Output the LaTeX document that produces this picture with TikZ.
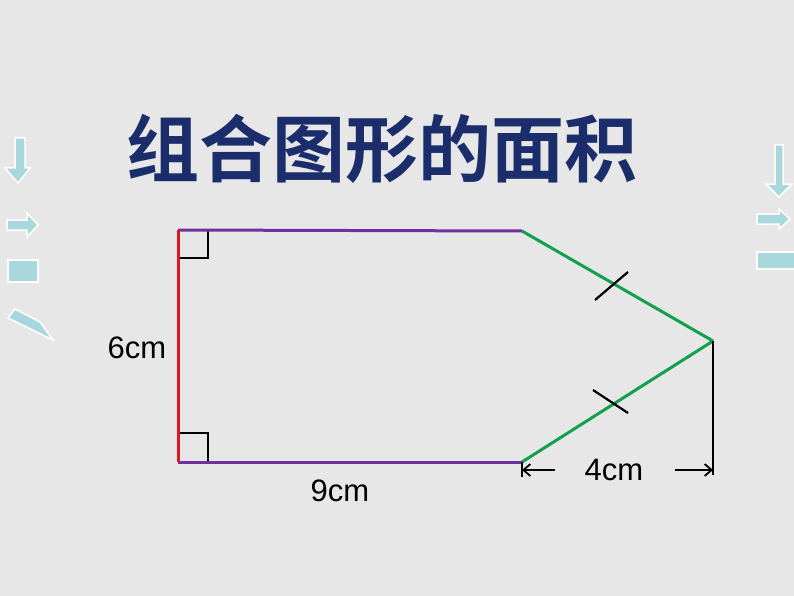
\documentclass[tikz,border=0pt]{standalone}
\usepackage{fontspec}
\setmainfont{Liberation Sans}
\newfontfamily\cjk{Noto Sans CJK SC Bold}
\usetikzlibrary{arrows.meta}
\definecolor{bg}{HTML}{E7E7E7}
\definecolor{navy}{HTML}{1B2D6B}
\definecolor{deco}{HTML}{A9D8DC}
\definecolor{lred}{HTML}{E0161E}
\definecolor{lpurple}{HTML}{7030A0}
\definecolor{lgreen}{HTML}{12A04C}
\tikzset{
  decoshape/.style={fill=deco, draw=white, line width=1.5pt, line join=miter},
  redline/.style={draw=lred, line width=3pt},
  purpleline/.style={draw=lpurple, line width=3pt},
  greenline/.style={draw=lgreen, line width=3pt},
  blackline/.style={draw=black, line width=2.2pt},
  dimarrow/.style={draw=black, line width=1.8pt, -{Straight Barb[length=7pt,width=12pt]}},
  label/.style={font=\fontsize{31}{33}\selectfont, inner sep=0pt},
}
\begin{document}
\begin{tikzpicture}[x=1pt,y=-1pt]
\fill[bg] (0,0) rectangle (794,596);
\useasboundingbox (0,0) rectangle (794,596);

% left decorations
\path[decoshape] (15,138) -- (25,138) -- (25,168) -- (30,168) -- (18,183) -- (5,168) -- (15,168) -- cycle;
\path[decoshape] (7,220) -- (27,220) -- (27,213) -- (38,225) -- (27,237) -- (27,230) -- (7,230) -- cycle;
\path[decoshape] (8,260) rectangle (38,282);
\path[decoshape] (8,318) -- (15,309) -- (40,322) -- (53,340) -- cycle;

% right decorations
\path[decoshape] (775,145) -- (783,145) -- (783,184) -- (792,184) -- (779,197) -- (766,184) -- (775,184) -- cycle;
\path[decoshape] (757,214) -- (779,214) -- (779,209) -- (790,219) -- (779,229) -- (779,224) -- (757,224) -- cycle;
\path[decoshape] (757,252) rectangle (796,269);

% title
\node[font={\cjk\fontsize{73}{75}\selectfont}, text=navy, inner sep=0pt] (title) at (382,149) {组合图形的面积};

% shape corners
\coordinate (A) at (178,230);
\coordinate (B) at (522,231);
\coordinate (C) at (713,341);
\coordinate (D) at (522,462);
\coordinate (E) at (178,462);
\coordinate (F) at (713,475);
\coordinate (Dt) at (522,477);

% right-angle marks
\draw[blackline] (178,258) -- (208,258) -- (208,230);
\draw[blackline] (178,433) -- (208,433) -- (208,462);

% sides
\draw[purpleline] (A) -- (B);
\draw[purpleline] (E) -- (D);
\draw[greenline] (B) -- (C);
\draw[greenline] (D) -- (C);
\draw[redline] (A) -- (E);

% equal-length ticks
\draw[blackline] (595,300) -- (628,272);
\draw[blackline] (593,390) -- (628,413);

% dimension lines
\draw[blackline] (C) -- (F);
\draw[blackline] (D) -- (Dt);
\coordinate (L1) at (555,470);
\coordinate (L2) at (522,470);
\coordinate (R1) at (675,470);
\coordinate (R2) at (713,470);
\draw[dimarrow] (L1) -- (L2);
\draw[dimarrow] (R1) -- (R2);

% labels
\node[label] (l6) at (137,348) {6cm};
\node[label] (l9) at (340,491) {9cm};
\node[label] (l4) at (614,470) {4cm};
\end{tikzpicture}
\end{document}
